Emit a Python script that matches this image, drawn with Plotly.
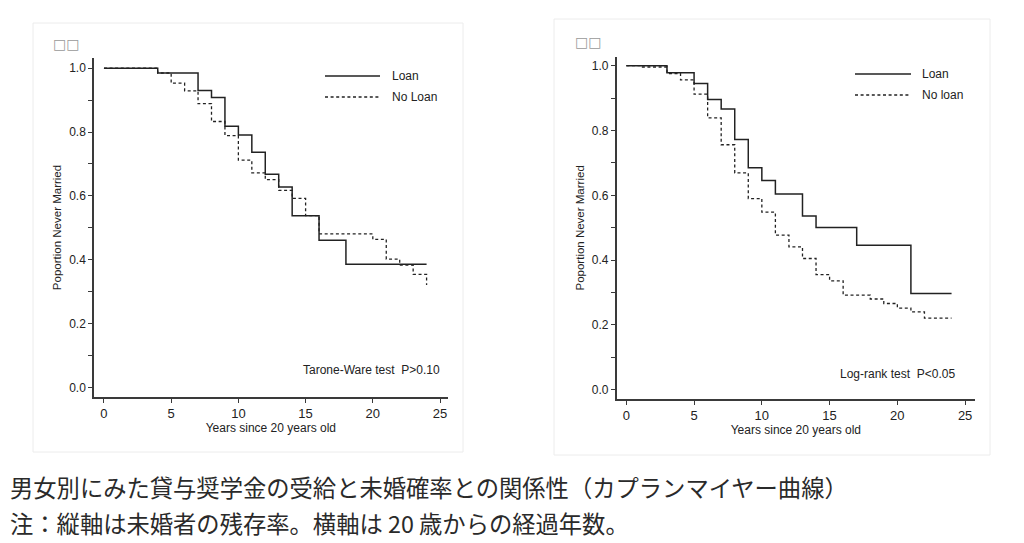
import plotly.graph_objects as go

W, H = 1024, 543

# ---- data ----
left_loan_t = [0, 4, 7, 8, 9, 10, 11, 12, 13, 14, 16, 18, 24]
left_loan_s = [1.0, 0.985, 0.930, 0.908, 0.818, 0.791, 0.737, 0.668, 0.628, 0.538, 0.461, 0.386, 0.386]

left_noloan_t = [0, 4, 5, 6, 7, 8, 9, 10, 11, 12, 13, 14, 15, 16, 20, 21, 22, 23, 24]
left_noloan_s = [1.0, 0.985, 0.953, 0.929, 0.889, 0.833, 0.789, 0.712, 0.672, 0.651, 0.617, 0.592,
                 0.538, 0.481, 0.464, 0.402, 0.383, 0.354, 0.321]

right_loan_t = [0, 3, 5, 6, 7, 8, 9, 10, 11, 13, 14, 17, 21, 24]
right_loan_s = [1.0, 0.978, 0.945, 0.896, 0.866, 0.772, 0.685, 0.646, 0.604, 0.536, 0.501, 0.446, 0.297, 0.297]

right_noloan_t = [0, 1, 3, 4, 5, 6, 7, 8, 9, 10, 11, 12, 13, 14, 15, 16, 18, 19, 20, 21, 22, 24]
right_noloan_s = [1.0, 0.996, 0.976, 0.956, 0.912, 0.839, 0.756, 0.669, 0.590, 0.548, 0.477, 0.441,
                  0.405, 0.355, 0.336, 0.292, 0.280, 0.266, 0.252, 0.240, 0.221, 0.221]

x_ticks = [0, 5, 10, 15, 20, 25]
y_ticks = [0.0, 0.2, 0.4, 0.6, 0.8, 1.0]
y_ticklabels = ["0.0", "0.2", "0.4", "0.6", "0.8", "1.0"]

left_legend = ["Loan", "No Loan"]
right_legend = ["Loan", "No loan"]
left_test = "Tarone-Ware test  P>0.10"
right_test = "Log-rank test  P<0.05"
panel_label = "□□"
y_title = "Poportion Never Married"
x_title = "Years since 20 years old"
caption1 = "男女別にみた貸与奨学金の受給と未婚確率との関係性（カプランマイヤー曲線）"
caption2 = "注：縦軸は未婚者の残存率。横軸は 20 歳からの経過年数。"

# ---- styling ----
FONT = "Liberation Sans, Arial, sans-serif"
AXC = "#3a3a3a"
LINEC = "#222222"
DASH = "3px,2.6px"

def px_x(p):
    return p / W

def px_y(p):
    return 1 - p / H

fig = go.Figure()

fig.add_trace(go.Scatter(x=left_loan_t, y=left_loan_s, mode="lines", line_shape="hv",
                         line=dict(color=LINEC, width=1.5), xaxis="x", yaxis="y", showlegend=False))
fig.add_trace(go.Scatter(x=left_noloan_t, y=left_noloan_s, mode="lines", line_shape="hv",
                         line=dict(color=LINEC, width=1.3, dash=DASH), xaxis="x", yaxis="y", showlegend=False))
fig.add_trace(go.Scatter(x=right_loan_t, y=right_loan_s, mode="lines", line_shape="hv",
                         line=dict(color=LINEC, width=1.5), xaxis="x2", yaxis="y2", showlegend=False))
fig.add_trace(go.Scatter(x=right_noloan_t, y=right_noloan_s, mode="lines", line_shape="hv",
                         line=dict(color=LINEC, width=1.3, dash=DASH), xaxis="x2", yaxis="y2", showlegend=False))

def xaxis(domain, rng, anchor):
    return dict(domain=domain, range=rng, anchor=anchor, tickvals=x_ticks,
                showline=True, linecolor=AXC, linewidth=1.5, ticks="outside", ticklen=4,
                tickcolor=AXC, tickwidth=1.2, showgrid=False, zeroline=False,
                tickfont=dict(family=FONT, size=13, color="#222"),
                title=dict(text=x_title, font=dict(family=FONT, size=12, color="#222"), standoff=2))

def yaxis(domain, rng, anchor):
    return dict(domain=domain, range=rng, anchor=anchor, tickvals=y_ticks, ticktext=y_ticklabels,
                showline=True, linecolor=AXC, linewidth=1.5, ticks="outside", ticklen=4,
                tickcolor=AXC, tickwidth=1.2, showgrid=False, zeroline=False,
                minor=dict(dtick=0.1, ticks="outside", ticklen=4, tickcolor=AXC, tickwidth=1.2, showgrid=False),
                tickfont=dict(family=FONT, size=12, color="#222"),
                title=dict(text=y_title, font=dict(family=FONT, size=11.5, color="#222"), standoff=5))

fig.update_layout(
    width=W, height=H, margin=dict(l=0, r=0, t=0, b=0),
    paper_bgcolor="white", plot_bgcolor="white",
    xaxis=xaxis([px_x(94), px_x(447.7)], [-0.74, 25.57], "y"),
    yaxis=yaxis([px_y(397), px_y(58)], [-0.030, 1.032], "x"),
    xaxis2=xaxis([px_x(616.7), px_x(975)], [-0.71, 25.73], "y2"),
    yaxis2=yaxis([px_y(399), px_y(56.7)], [-0.0287, 1.0278], "x2"),
)

shapes = []
annots = []
# panel frames
for (x0, y0, x1, y1) in [(33, 23, 463, 452), (554, 19, 990, 455)]:
    shapes.append(dict(type="rect", xref="paper", yref="paper", x0=px_x(x0), x1=px_x(x1),
                       y0=px_y(y1), y1=px_y(y0), line=dict(color="#ececec", width=1)))

# manual legends
for (xs, xe, xt, ys, labels) in [(325, 380, 390, (76, 97), left_legend),
                                 (855, 911, 920, (74, 95), right_legend)]:
    for i, (yy, lab) in enumerate(zip(ys, labels)):
        shapes.append(dict(type="line", xref="paper", yref="paper", x0=px_x(xs), x1=px_x(xe),
                           y0=px_y(yy), y1=px_y(yy),
                           line=dict(color=LINEC, width=1.5 if i == 0 else 1.3,
                                     dash="solid" if i == 0 else DASH)))
        annots.append(dict(xref="paper", yref="paper", x=px_x(xt), y=px_y(yy), text=lab,
                           showarrow=False, xanchor="left", yanchor="middle",
                           font=dict(family=FONT, size=12, color="#222")))

annots.append(dict(xref="paper", yref="paper", x=px_x(442), y=px_y(370), text=left_test,
                   showarrow=False, xanchor="right", yanchor="middle",
                   font=dict(family=FONT, size=12, color="#222")))
annots.append(dict(xref="paper", yref="paper", x=px_x(957), y=px_y(374), text=right_test,
                   showarrow=False, xanchor="right", yanchor="middle",
                   font=dict(family=FONT, size=12, color="#222")))

for (xx, yy) in [(51, 44), (573, 42)]:
    annots.append(dict(xref="paper", yref="paper", x=px_x(xx), y=px_y(yy), text=panel_label,
                       showarrow=False, xanchor="left", yanchor="middle",
                       font=dict(family="DejaVu Sans", size=14, color="#999999")))

annots.append(dict(xref="paper", yref="paper", x=px_x(8), y=px_y(487), text=caption1,
                   showarrow=False, xanchor="left", yanchor="middle",
                   font=dict(family="Noto Sans CJK JP", size=23.3, color="#2a2a2a")))
annots.append(dict(xref="paper", yref="paper", x=px_x(8), y=px_y(523), text=caption2,
                   showarrow=False, xanchor="left", yanchor="middle",
                   font=dict(family="Noto Sans CJK JP", size=23.3, color="#2a2a2a")))

fig.update_layout(shapes=shapes, annotations=annots)
fig.write_html("out.html", config={"displayModeBar": False},
               post_script="document.body.style.margin='0px';document.body.style.overflow='hidden';")
